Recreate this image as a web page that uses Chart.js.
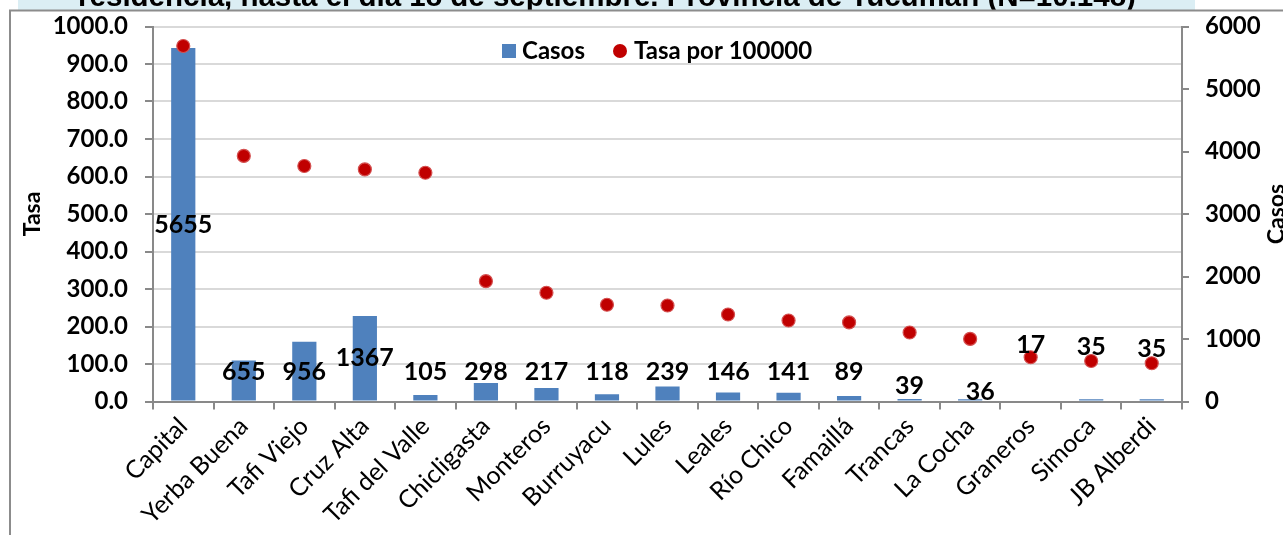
<!DOCTYPE html>
<html>
<head>
<meta charset="utf-8">
<script src="https://cdn.jsdelivr.net/npm/chart.js@4.4.1/dist/chart.umd.min.js"></script>
<style>
  html, body { margin: 0; padding: 0; background: #fff; overflow: hidden; }
  #wrap { position: relative; width: 1283px; height: 535px; }
</style>
</head>
<body>
<div id="wrap"><canvas id="chart" width="1283" height="535"></canvas></div>
<script>
// values
const departamentos = ['Capital', 'Yerba Buena', 'Tafi Viejo', 'Cruz Alta', 'Tafi del Valle', 'Chicligasta',
  'Monteros', 'Burruyacu', 'Lules', 'Leales', 'Río Chico', 'Famaillá', 'Trancas', 'La Cocha',
  'Graneros', 'Simoca', 'JB Alberdi'];
const casos = [5655, 655, 956, 1367, 105, 298, 217, 118, 239, 146, 141, 89, 39, 36, 17, 35, 35];
const tasa = [948, 655, 628, 619, 610, 321, 290, 258, 256, 232, 216, 211, 184, 167, 118, 108, 102];
const tituloTexto = 'residencia, hasta el día 18 de septiembre. Provincia de Tucumán (N=10.148)';

// where each casos label sits (Excel hand-placed labels)
const labelPlacement = [
  { anchor: 'mid' },
  { anchor: 'base', dy: -30 }, { anchor: 'base', dy: -30 }, { anchor: 'base', dy: -44 },
  { anchor: 'base', dy: -30 }, { anchor: 'base', dy: -30 }, { anchor: 'base', dy: -30 },
  { anchor: 'base', dy: -30 }, { anchor: 'base', dy: -30 }, { anchor: 'base', dy: -30 },
  { anchor: 'base', dy: -30 }, { anchor: 'base', dy: -30 }, { anchor: 'base', dy: -16 },
  { anchor: 'base', dy: -10, dx: 10 },
  { anchor: 'dot', dy: -12 }, { anchor: 'dot', dy: -14 }, { anchor: 'dot', dy: -14 }
];

const FONT = 'Lato, "Open Sans", sans-serif';
const axisGray = '#898989';
const gridGray = '#D9D9D9';

const framePlugin = {
  id: 'frame',
  beforeDraw(chart) {
    const ctx = chart.ctx;
    ctx.save();
    ctx.fillStyle = '#ffffff';
    ctx.fillRect(0, 0, chart.width, chart.height);
    // title band, cut off at the top like in the source
    ctx.fillStyle = '#DBEEF4';
    ctx.fillRect(18, 0, 1177, 10);
    ctx.beginPath();
    ctx.rect(0, 0, chart.width, 10);
    ctx.clip();
    ctx.fillStyle = '#000';
    ctx.font = 'bold 29.5px "Liberation Sans", Arial, sans-serif';
    ctx.textAlign = 'center';
    ctx.textBaseline = 'alphabetic';
    ctx.fillText(tituloTexto, 607, 6);
    ctx.restore();

    ctx.save();
    ctx.strokeStyle = '#8C8C8C';
    ctx.lineWidth = 2;
    ctx.beginPath();
    ctx.moveTo(10, chart.height + 5);
    ctx.lineTo(10, 10.5);
    ctx.lineTo(chart.width + 5, 10.5);
    ctx.stroke();
    ctx.restore();
  },
  afterDraw(chart) {
    const ctx = chart.ctx;
    ctx.save();
    ctx.fillStyle = '#000';
    ctx.font = 'bold 23px ' + FONT;
    ctx.textAlign = 'center';
    ctx.textBaseline = 'middle';
    ctx.translate(33, 214);
    ctx.rotate(-Math.PI / 2);
    ctx.fillText('Tasa', 0, 0);
    ctx.restore();

    ctx.save();
    ctx.fillStyle = '#000';
    ctx.font = 'bold 23px ' + FONT;
    ctx.textAlign = 'center';
    ctx.textBaseline = 'middle';
    ctx.translate(1277, 214);
    ctx.rotate(-Math.PI / 2);
    ctx.fillText('Casos', 0, 0);
    ctx.restore();

    // legend
    ctx.save();
    ctx.font = 'bold 24px ' + FONT;
    ctx.textBaseline = 'middle';
    ctx.fillStyle = '#4F81BD';
    ctx.fillRect(502, 44, 14, 14);
    ctx.fillStyle = '#000';
    ctx.fillText('Casos', 522, 51);
    ctx.beginPath();
    ctx.arc(620, 51, 7, 0, Math.PI * 2);
    ctx.fillStyle = '#C00000';
    ctx.fill();
    ctx.fillStyle = '#000';
    ctx.fillText('Tasa por 100000', 634, 51);
    ctx.restore();
  }
};

const casosLabels = {
  id: 'casosLabels',
  afterDatasetsDraw(chart) {
    const ctx = chart.ctx;
    const bars = chart.getDatasetMeta(0).data;
    const dots = chart.getDatasetMeta(1).data;
    const yRight = chart.scales.y1;
    ctx.save();
    ctx.fillStyle = '#000';
    ctx.font = 'bold 25px ' + FONT;
    ctx.textAlign = 'center';
    ctx.textBaseline = 'middle';
    casos.forEach((v, i) => {
      const p = labelPlacement[i];
      const bar = bars[i];
      let x = bar.x + (p.dx || 0);
      let y;
      if (p.anchor === 'mid') {
        y = (bar.y + yRight.getPixelForValue(0)) / 2;
      } else if (p.anchor === 'dot') {
        y = dots[i].y + p.dy;
      } else {
        y = yRight.getPixelForValue(0) + p.dy;
      }
      ctx.fillText(String(v), x, y);
    });
    ctx.restore();
  }
};

const ctx = document.getElementById('chart').getContext('2d');
new Chart(ctx, {
  data: {
    labels: departamentos,
    datasets: [
      {
        type: 'bar',
        label: 'Casos',
        data: casos,
        yAxisID: 'y1',
        backgroundColor: '#4F81BD',
        barPercentage: 0.4,
        categoryPercentage: 1.0,
        order: 2
      },
      {
        type: 'line',
        label: 'Tasa por 100000',
        data: tasa,
        yAxisID: 'y',
        showLine: false,
        pointRadius: 6.5,
        pointBackgroundColor: '#C00000',
        pointBorderColor: '#D45050',
        pointBorderWidth: 1.2,
        order: 1
      }
    ]
  },
  options: {
    responsive: false,
    animation: false,
    layout: { padding: { top: 26.5, left: 0, right: 0, bottom: 0 } },
    plugins: {
      legend: { display: false },
      tooltip: { enabled: false }
    },
    scales: {
      x: {
        offset: true,
        grid: { drawOnChartArea: false, offset: true, tickColor: axisGray, tickLength: 8, lineWidth: 2 },
        border: { color: axisGray, width: 2 },
        ticks: {
          color: '#000',
          font: { family: FONT, size: 25 },
          maxRotation: 45,
          minRotation: 45,
          padding: 2,
          autoSkip: false
        },
        afterFit(scale) { scale.height = 133.5; }
      },
      y: {
        position: 'left',
        min: 0,
        max: 1000,
        ticks: {
          stepSize: 100,
          color: '#000',
          font: { family: FONT, size: 24, weight: 'bold' },
          padding: 17,
          callback: (v) => Number(v).toFixed(1)
        },
        grid: { color: gridGray, lineWidth: 2, tickColor: axisGray, tickLength: 8 },
        border: { color: axisGray, width: 2 },
        afterFit(scale) {
          scale.width = 153;
          scale.paddingTop = 0;
          scale.paddingBottom = 0;
        }
      },
      y1: {
        position: 'right',
        min: 0,
        max: 6000,
        ticks: {
          stepSize: 1000,
          color: '#000',
          font: { family: FONT, size: 24, weight: 'bold' },
          padding: 16,
          callback: (v) => String(v)
        },
        grid: { drawOnChartArea: false, tickColor: axisGray, tickLength: 7, lineWidth: 2 },
        border: { color: axisGray, width: 2 },
        afterFit(scale) {
          scale.width = 101;
          scale.paddingTop = 0;
          scale.paddingBottom = 0;
        }
      }
    }
  },
  plugins: [framePlugin, casosLabels]
});
</script>
</body>
</html>
